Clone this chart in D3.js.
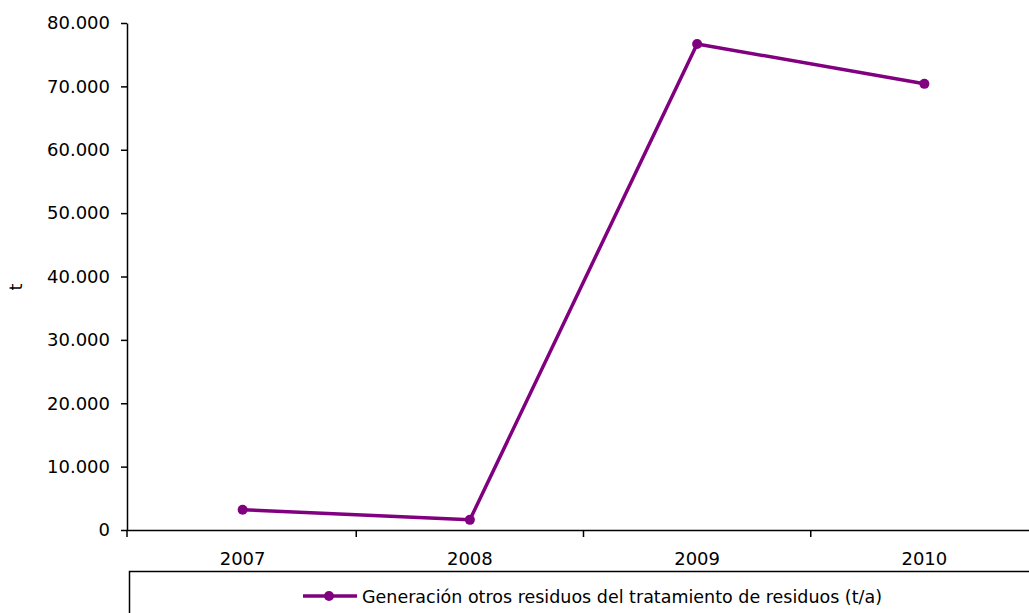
<!DOCTYPE html>
<html><head><meta charset="utf-8">
<script src="https://cdn.jsdelivr.net/npm/d3@7"></script>
<style>body{margin:0;background:#fff}svg{display:block}</style>
</head><body>
<svg id="c" width="1029" height="613"></svg>
<script>
const categories = ["2007","2008","2009","2010"];
const values = [3200, 1600, 76700, 70400];
const yTicks = [0,10000,20000,30000,40000,50000,60000,70000,80000];
const seriesName = "Generación otros residuos del tratamiento de residuos (t/a)";
const yLabel = "t";

const svg = d3.select("#c");
const font = "'DejaVu Sans', sans-serif";
const color = "#800080";
const axisX = 127, x0 = 129, x1 = 1038, yTop = 23, yBot = 530;

const x = d3.scaleBand().domain(categories).range([x0, x1]);
const y = d3.scaleLinear().domain([0, 80000]).range([yBot, yTop]);
const fmt = v => v === 0 ? "0" : d3.format(",")(v).replace(/,/g, ".");

// X axis
const xa = svg.append("g").attr("transform", `translate(0,${yBot})`)
  .call(d3.axisBottom(x).tickSize(0).tickSizeOuter(0));
xa.select(".domain").attr("d", `M${axisX},0.5H${x1}`).attr("stroke", "#000").attr("stroke-width", 1.5);
xa.selectAll("text").attr("font-family", font).attr("font-size", 18).attr("fill", "#000").attr("dy", 0).attr("y", 35);
// category boundary ticks
const bounds = categories.slice(1).map(c => x(c));
svg.append("g").selectAll("line").data(bounds).join("line")
  .attr("x1", d => d).attr("x2", d => d).attr("y1", yBot).attr("y2", yBot + 7)
  .attr("stroke", "#000").attr("stroke-width", 1.5);
svg.append("line").attr("x1", axisX).attr("x2", axisX).attr("y1", yBot).attr("y2", yBot + 7)
  .attr("stroke", "#000").attr("stroke-width", 1.5);

// Y axis
const ya = svg.append("g").attr("transform", `translate(${axisX},0)`)
  .call(d3.axisLeft(y).tickValues(yTicks).tickFormat(fmt).tickSize(6).tickSizeOuter(0));
ya.select(".domain").attr("stroke", "#000").attr("stroke-width", 1.5);
ya.selectAll(".tick line").attr("stroke", "#000").attr("stroke-width", 1.5);
ya.selectAll("text").attr("font-family", font).attr("font-size", 18).attr("fill", "#000").attr("x", -17);

// Y label
svg.append("text").attr("transform", "translate(22,287) rotate(-90)")
  .attr("text-anchor", "middle").attr("font-family", font).attr("font-size", 18).text(yLabel);

// Line
const cx = d => x(d) + x.bandwidth() / 2;
const pts = categories.map((c, i) => [cx(c), y(values[i])]);
svg.append("path").attr("d", d3.line()(pts)).attr("fill", "none")
  .attr("stroke", color).attr("stroke-width", 3.5).attr("stroke-linejoin", "round");
svg.append("g").selectAll("circle").data(pts).join("circle")
  .attr("cx", d => d[0]).attr("cy", d => d[1]).attr("r", 5).attr("fill", color);

// Legend box
svg.append("rect").attr("x", 129.5).attr("y", 571.5).attr("width", 950).attr("height", 100)
  .attr("fill", "none").attr("stroke", "#000").attr("stroke-width", 1.5);
svg.append("line").attr("x1", 303).attr("x2", 357).attr("y1", 596).attr("y2", 596)
  .attr("stroke", color).attr("stroke-width", 3.5);
svg.append("circle").attr("cx", 329).attr("cy", 596).attr("r", 5).attr("fill", color);
svg.append("text").attr("x", 362).attr("y", 603).attr("font-family", font).attr("font-size", 18)
  .attr("textLength", 520).attr("lengthAdjust", "spacingAndGlyphs").text(seriesName);
</script>
</body></html>
